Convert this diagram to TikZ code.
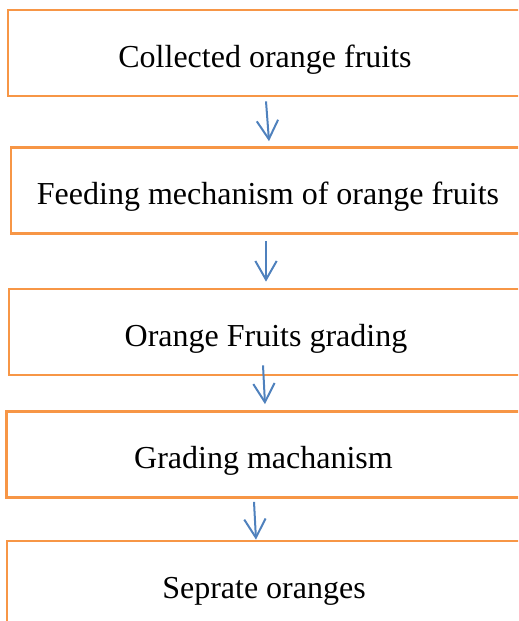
\documentclass[tikz,border=0pt]{standalone}
\usepackage{fontspec}
\setmainfont{Liberation Serif}
\usepackage{tikz}
\usetikzlibrary{arrows.meta}

\definecolor{boxorange}{HTML}{F79646}
\definecolor{arrowblue}{HTML}{4F81BD}

\begin{document}
\begin{tikzpicture}[x=0.75pt, y=-0.75pt,
    stage/.style={draw=boxorange, line width=2pt, minimum width=385.5pt,
      minimum height=64.5pt, inner sep=0pt, text height=26pt, text depth=5pt,
      font=\fontsize{24pt}{28pt}\selectfont},
    flow/.style={draw=arrowblue, line width=1.5pt,
      -{Straight Barb[length=14pt, width=16pt, line width=1.5pt]}}]
      \useasboundingbox (0,0) rectangle (518,621);
      \clip (0,0) rectangle (518,621);
      \node[stage] (collect) at (265,53) {Collected orange fruits};
      \node[stage] (feed) at (268,190.5) {Feeding mechanism of orange fruits};
      \node[stage] (grade) at (266,332) {Orange Fruits grading};
      \node[stage] (gradmech) at (263.5,454.5) {Grading machanism};
      \node[stage] (separate) at (264,584) {Seprate oranges};
      \draw [flow] ([shift={(1,4)}]collect.south) -- ([shift={(1,-5)}]feed.north);
      \draw [flow] ([shift={(-2,6)}]feed.south) -- ([shift={(0,-6)}]grade.north);
      \draw [flow] ([shift={(-3,-11)}]grade.south) -- ([shift={(1.5,-6)}]gradmech.north);
      \draw [flow] ([shift={(-9.5,3)}]gradmech.south) -- ([shift={(-8,0)}]separate.north);
    \end{tikzpicture}
\end{document}
